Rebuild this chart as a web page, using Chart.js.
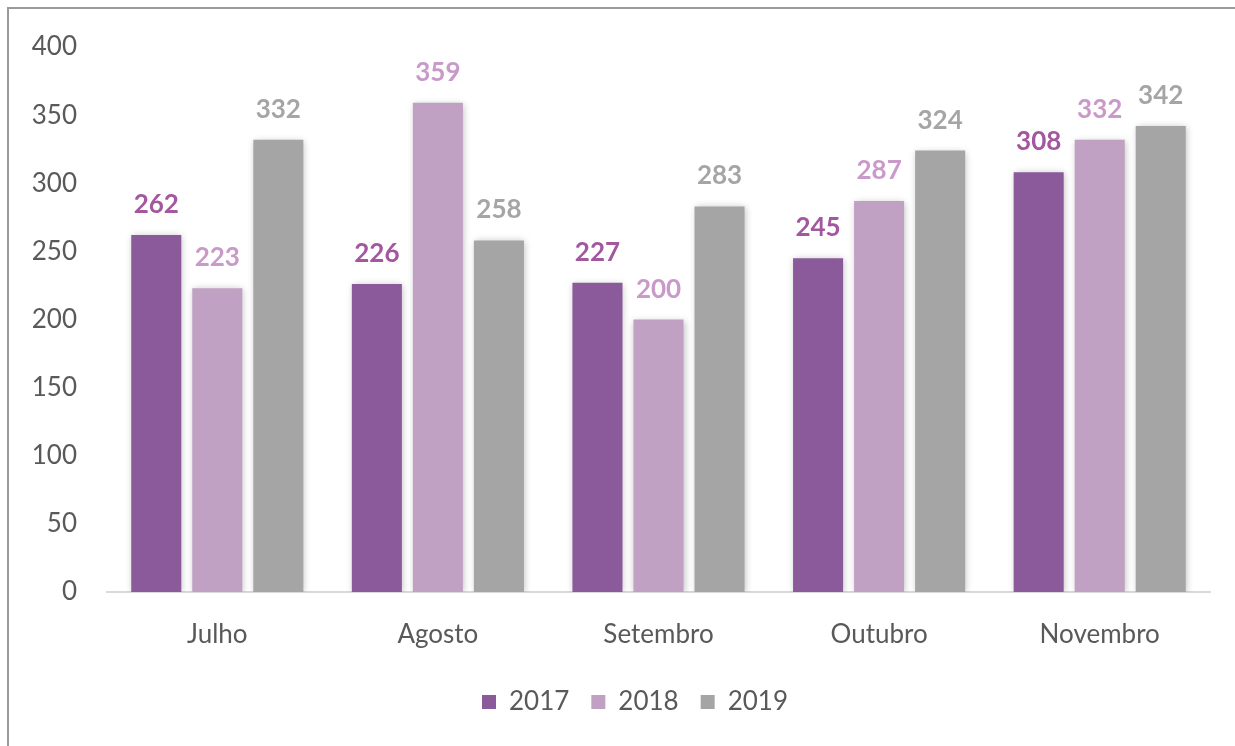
<!DOCTYPE html>
<html>
<head>
<meta charset="utf-8">
<title>Chart</title>
<script src="https://cdn.jsdelivr.net/npm/chart.js@4.4.0/dist/chart.umd.min.js"></script>
<style>
    html, body { margin: 0; padding: 0; background: #fff; }
    #wrap { position: relative; width: 1235px; height: 746px; }
    #frame {
        position: absolute; left: 7px; top: 7px; right: 0; bottom: 0;
        border-top: 2px solid #9a9a9a; border-left: 2px solid #9a9a9a;
        pointer-events: none;
    }
</style>
</head>
<body>
<div id="wrap">
    <canvas id="barChart" width="1235" height="746"></canvas>
    <div id="frame"></div>
</div>
<script>
// Data
const months = ['Julho', 'Agosto', 'Setembro', 'Outubro', 'Novembro'];
const years = ['2017', '2018', '2019'];
const values2017 = [262, 226, 227, 245, 308];
const values2018 = [223, 359, 200, 287, 332];
const values2019 = [332, 258, 283, 324, 342];
const yTicks = [0, 50, 100, 150, 200, 250, 300, 350, 400];

const barColors = ['#8a5a9a', '#c0a1c3', '#a5a5a5'];
const labelColors = ['#a3579e', '#c99ac9', '#a5a5a5'];

// Value labels above bars
const valueLabels = {
    id: 'valueLabels',
    afterDatasetsDraw(chart) {
        const ctx = chart.ctx;
        ctx.save();
        ctx.font = 'bold 26px Lato';
        ctx.textAlign = 'center';
        ctx.textBaseline = 'alphabetic';
        chart.data.datasets.forEach((ds, i) => {
            const meta = chart.getDatasetMeta(i);
            ctx.fillStyle = labelColors[i];
            meta.data.forEach((bar, j) => {
                ctx.fillText(ds.data[j], bar.x, bar.y - 22);
            });
        });
        ctx.restore();
    }
};

// Soft shadow like the original bars
const barShadow = {
    id: 'barShadow',
    beforeDatasetsDraw(chart) {
        const ctx = chart.ctx;
        ctx.save();
        ctx.shadowColor = 'rgba(0,0,0,0.25)';
        ctx.shadowBlur = 7;
        ctx.shadowOffsetX = 1;
        ctx.shadowOffsetY = 1;
    },
    afterDatasetsDraw(chart) {
        chart.ctx.restore();
    }
};

// The original legend sits a bit right of the canvas centre
const legendShift = {
    id: 'legendShift',
    afterLayout(chart) {
        chart.legend.left += 30;
        chart.legend.right += 30;
    }
};

const seriesValues = [values2017, values2018, values2019];

const ctx = document.getElementById('barChart').getContext('2d');
new Chart(ctx, {
    type: 'bar',
    data: {
        labels: months,
        datasets: years.map((y, i) => ({
            label: y,
            data: seriesValues[i],
            backgroundColor: barColors[i],
            borderWidth: 0,
            categoryPercentage: 0.83,
            barPercentage: 0.82
        }))
    },
    options: {
        responsive: false,
        animation: false,
        layout: { padding: { top: 47, right: 25, left: 0, bottom: 21 } },
        plugins: {
            tooltip: { enabled: false },
            legend: {
                position: 'bottom',
                labels: {
                    color: '#595959',
                    font: { family: 'Lato', size: 26 },
                    boxWidth: 14,
                    boxHeight: 14,
                    padding: 22
                }
            }
        },
        scales: {
            x: {
                grid: { display: false, drawTicks: false },
                border: { color: '#d9d9d9', width: 2 },
                ticks: {
                    color: '#595959',
                    font: { family: 'Lato', size: 26 },
                    padding: 27
                },
                afterFit(scale) { scale.height = 75; }
            },
            y: {
                min: 0,
                max: 400,
                afterBuildTicks(scale) {
                    scale.ticks = yTicks.map(v => ({ value: v }));
                },
                grid: { display: false, drawTicks: false },
                border: { display: false },
                ticks: {
                    color: '#595959',
                    font: { family: 'Lato', size: 26 },
                    padding: 30
                },
                afterFit(scale) { scale.width = 107; }
            }
        }
    },
    plugins: [barShadow, valueLabels, legendShift]
});
</script>
</body>
</html>
